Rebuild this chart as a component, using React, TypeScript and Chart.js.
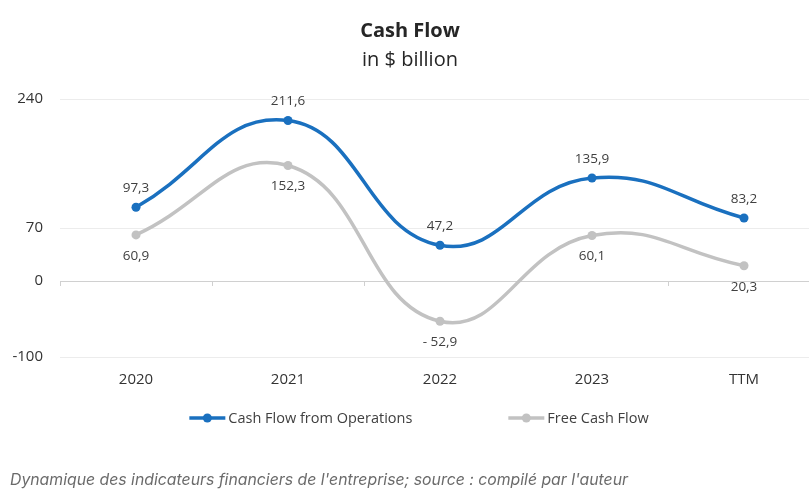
import React, { useEffect, useRef } from "react";
import { Chart, registerables } from "chart.js";

Chart.register(...registerables);

const categories = ["2020", "2021", "2022", "2023", "TTM"];
const cashFlowOps = [97.3, 211.6, 47.2, 135.9, 83.2];
const freeCashFlow = [60.9, 152.3, -52.9, 60.1, 20.3];
const yTicks = [-100, 0, 70, 240];
const seriesNames = ["Cash Flow from Operations", "Free Cash Flow"];
const titleText = "Cash Flow";
const subtitleText = "in $ billion";
const captionText =
  "Dynamique des indicateurs financiers de l'entreprise; source : compilé par l'auteur";

const BLUE = "#1a70bf";
const GRAY = "#c2c2c2";
const FONT = "'Open Sans', sans-serif";

function fmt(v: number): string {
  const s = Math.abs(v).toFixed(1).replace(".", ",");
  return v < 0 ? "- " + s : s;
}

const dataLabelPlugin = {
  id: "dataLabels",
  afterDatasetsDraw(chart: any) {
    const ctx = chart.ctx;
    ctx.save();
    ctx.font = `13.5px ${FONT}`;
    ctx.fillStyle = "#404040";
    ctx.textAlign = "center";
    ctx.textBaseline = "middle";
    chart.data.datasets.forEach((ds: any, i: number) => {
      const meta = chart.getDatasetMeta(i);
      meta.data.forEach((pt: any, j: number) => {
        const v = ds.data[j];
        const dy = i === 0 ? -19 : 21;
        ctx.fillText(fmt(v), pt.x, pt.y + dy);
      });
    });
    ctx.restore();
  },
};

const zeroTicksPlugin = {
  id: "zeroTicks",
  beforeDatasetsDraw(chart: any) {
    const xs = chart.scales.x;
    const ys = chart.scales.y;
    const y0 = Math.round(ys.getPixelForValue(0));
    const ctx = chart.ctx;
    ctx.save();
    ctx.strokeStyle = "#d0d0d0";
    ctx.lineWidth = 1;
    const n = chart.data.labels.length;
    const step = (xs.right - xs.left) / n;
    for (let k = 0; k <= n; k++) {
      const px = Math.round(xs.left + k * step) + 0.5;
      ctx.beginPath();
      ctx.moveTo(px, y0);
      ctx.lineTo(px, y0 + 5);
      ctx.stroke();
    }
    ctx.restore();
  },
};

const legendPlugin = {
  id: "customLegend",
  afterDraw(chart: any) {
    const ctx = chart.ctx;
    ctx.save();
    ctx.font = `14.5px ${FONT}`;
    const lineW = 36;
    const gapText = 3;
    const gapItems = 96;
    const items = chart.data.datasets.map((ds: any) => ({
      label: ds.label,
      color: ds.borderColor,
      w: lineW + gapText + ctx.measureText(ds.label).width,
    }));
    const total =
      items.reduce((s: number, it: any) => s + it.w, 0) + gapItems * (items.length - 1);
    let x = chart.width / 2 + 6 - total / 2;
    const y = chart.chartArea.bottom + 61;
    items.forEach((it: any) => {
      ctx.strokeStyle = it.color;
      ctx.lineWidth = 3.5;
      ctx.beginPath();
      ctx.moveTo(x, y);
      ctx.lineTo(x + lineW, y);
      ctx.stroke();
      ctx.fillStyle = it.color;
      ctx.beginPath();
      ctx.arc(x + lineW / 2, y, 4.5, 0, Math.PI * 2);
      ctx.fill();
      ctx.fillStyle = "#404040";
      ctx.textAlign = "left";
      ctx.textBaseline = "middle";
      ctx.fillText(it.label, x + lineW + gapText, y + 1);
      x += it.w + gapItems;
    });
    ctx.restore();
  },
};

export default function App() {
  const ref = useRef<HTMLCanvasElement | null>(null);

  useEffect(() => {
    if (!ref.current) return;
    const chart = new Chart(ref.current, {
      type: "line",
      data: {
        labels: categories,
        datasets: [
          {
            label: seriesNames[0],
            data: cashFlowOps,
            borderColor: BLUE,
            backgroundColor: BLUE,
            pointBackgroundColor: BLUE,
            pointBorderWidth: 0,
            pointRadius: 4.5,
            borderWidth: 3.5,
            tension: 0.45,
            fill: false,
          },
          {
            label: seriesNames[1],
            data: freeCashFlow,
            borderColor: GRAY,
            backgroundColor: GRAY,
            pointBackgroundColor: GRAY,
            pointBorderWidth: 0,
            pointRadius: 4.5,
            borderWidth: 3.5,
            tension: 0.45,
            fill: false,
          },
        ],
      },
      options: {
        responsive: false,
        animation: false,
        devicePixelRatio: 1,
        layout: { padding: { left: 0, right: 6, top: 0, bottom: 0 } },
        plugins: {
          legend: { display: false },
          tooltip: { enabled: false },
          title: {
            display: true,
            text: titleText,
            font: { family: FONT, size: 20, weight: "bold" },
            color: "#262626",
            padding: { top: 19, bottom: 0 },
          },
          subtitle: {
            display: true,
            text: subtitleText,
            font: { family: FONT, size: 20, weight: "normal" },
            color: "#262626",
            padding: { top: 5, bottom: 27 },
          },
        },
        scales: {
          x: {
            type: "category",
            offset: true,
            grid: { display: false, drawTicks: false },
            border: { display: false },
            ticks: { padding: 14, font: { family: FONT, size: 15 }, color: "#333333" },
            afterFit: (s: any) => {
              s.height = 137;
            },
          },
          y: {
            min: -100,
            max: 240,
            afterBuildTicks: (s: any) => {
              s.ticks = yTicks.map((v) => ({ value: v }));
            },
            grid: {
              color: (c: any) => (c.tick && c.tick.value === 0 ? "#d0d0d0" : "#ececec"),
              drawTicks: false,
              lineWidth: 1,
            },
            border: { display: false },
            ticks: {
              padding: 17,
              font: { family: FONT, size: 15 },
              color: "#333333",
              callback: (v: any) => String(v),
            },
            afterFit: (s: any) => {
              s.width = 60;
            },
          },
        },
      },
      plugins: [zeroTicksPlugin, dataLabelPlugin, legendPlugin],
    } as any);
    return () => chart.destroy();
  }, []);

  return (
    <div
      style={{
        position: "fixed",
        left: 0,
        top: 0,
        width: 809,
        height: 494,
        overflow: "hidden",
        background: "#ffffff",
      }}
    >
      <canvas
        ref={ref}
        width={826}
        height={494}
        style={{ position: "absolute", left: 0, top: 0, width: 826, height: 494 }}
      />
      <div
        style={{
          position: "absolute",
          left: 10,
          top: 469,
          fontFamily: "Inter, sans-serif",
          fontStyle: "italic",
          fontSize: 15.8,
          lineHeight: "22px",
          color: "#6b6b6b",
          whiteSpace: "nowrap",
        }}
      >
        {captionText}
      </div>
    </div>
  );
}
